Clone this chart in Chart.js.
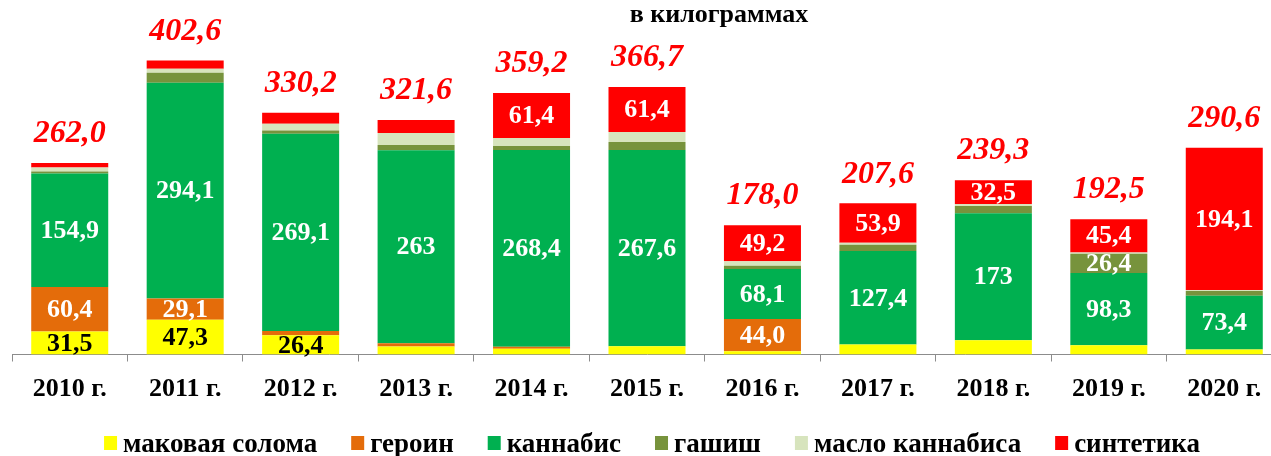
<!DOCTYPE html>
<html>
<head>
<meta charset="utf-8">
<script src="https://cdn.jsdelivr.net/npm/chart.js@4/dist/chart.umd.min.js"></script>
<style>
  html, body { margin: 0; padding: 0; background: #fff; overflow: hidden; }
  #wrap { width: 1271px; height: 456px; overflow: hidden; }
</style>
</head>
<body>
<div id="wrap"><canvas id="chart" width="1282" height="456"></canvas></div>
<script>
// Years on the x axis
const years = ['2010 г.', '2011 г.', '2012 г.', '2013 г.', '2014 г.', '2015 г.',
  '2016 г.', '2017 г.', '2018 г.', '2019 г.', '2020 г.'];

// Seized amounts, kg (small segments)
const poppyStraw = [31.5, 47.3, 26.4, 11.0, 7.7, 11.3, 4.5, 13.6, 19.5, 12.7, 6.8];
const heroin     = [60.4, 29.1, 5.5, 4.5, 2.7, 0, 44.0, 0, 0, 0, 0];
const cannabis   = [154.9, 294.1, 269.1, 263, 268.4, 267.6, 68.1, 127.4, 173, 98.3, 73.4];
const hashish    = [2.7, 13.6, 4.5, 7.3, 5.5, 11.0, 4.5, 8.6, 10.0, 26.4, 6.4];
const cannabisOil = [5.5, 5.5, 9.0, 16.4, 11.0, 13.6, 6.0, 2.7, 2.7, 1.8, 1.4];
const synthetics = [6.3, 11.3, 15.0, 17.7, 61.4, 61.4, 49.2, 53.9, 32.5, 45.4, 194.1];

// Printed labels
const poppyLabels    = ['31,5', '47,3', '26,4', null, null, null, null, null, null, null, null];
const heroinLabels   = ['60,4', '29,1', null, null, null, null, '44,0', null, null, null, null];
const cannabisLabels = ['154,9', '294,1', '269,1', '263', '268,4', '267,6', '68,1', '127,4', '173', '98,3', '73,4'];
const hashishLabels  = [null, null, null, null, null, null, null, null, null, '26,4', null];
const synthLabels    = [null, null, null, null, '61,4', '61,4', '49,2', '53,9', '32,5', '45,4', '194,1'];
const totalLabels    = ['262,0', '402,6', '330,2', '321,6', '359,2', '366,7', '178,0', '207,6', '239,3', '192,5', '290,6'];

const SERIF = 'Liberation Serif';

function series(label, data, color, labels, labelColor) {
  return {
    label, data,
    backgroundColor: color,
    borderWidth: 0,
    barPercentage: 0.667,
    categoryPercentage: 1.0,
    segLabels: labels,
    segLabelColor: labelColor
  };
}

const datasets = [
  series('маковая солома', poppyStraw, '#FFFF00', poppyLabels, '#000000'),
  series('героин', heroin, '#E46C0A', heroinLabels, '#FFFFFF'),
  series('каннабис', cannabis, '#00B050', cannabisLabels, '#FFFFFF'),
  series('гашиш', hashish, '#77933C', hashishLabels, '#FFFFFF'),
  series('масло каннабиса', cannabisOil, '#D7E4BD', null, '#FFFFFF'),
  series('синтетика', synthetics, '#FF0000', synthLabels, '#FFFFFF')
];

const labelPlugin = {
  id: 'labels',
  afterDatasetsDraw(chart) {
    const ctx = chart.ctx;
    ctx.save();
    ctx.textAlign = 'center';
    ctx.textBaseline = 'middle';
    ctx.font = 'bold 26px ' + SERIF;
    chart.data.datasets.forEach((ds, i) => {
      if (!ds.segLabels) return;
      const meta = chart.getDatasetMeta(i);
      ctx.fillStyle = ds.segLabelColor;
      meta.data.forEach((bar, j) => {
        const txt = ds.segLabels[j];
        if (!txt) return;
        ctx.fillText(txt, bar.x, (bar.y + bar.base) / 2 + 1);
      });
    });

    // totals above the stacks
    const top = chart.getDatasetMeta(chart.data.datasets.length - 1);
    ctx.font = 'italic bold 32px ' + SERIF;
    ctx.fillStyle = '#FF0000';
    top.data.forEach((bar, j) => {
      ctx.fillText(totalLabels[j], bar.x, bar.y - 29);
    });
    ctx.restore();
  },
  afterDraw(chart) {
    const ctx = chart.ctx;
    const area = chart.chartArea;
    ctx.save();

    // title
    ctx.font = 'bold 26px ' + SERIF;
    ctx.fillStyle = '#000';
    ctx.textAlign = 'center';
    ctx.textBaseline = 'alphabetic';
    ctx.fillText('в килограммах', 719, 22);

    // legend
    ctx.font = 'bold 27px ' + SERIF;
    ctx.textAlign = 'left';
    const boxW = 13, boxH = 14, gapText = 6, gapItem = 34;
    const items = chart.data.datasets.map(ds => ({
      text: ds.label, color: ds.backgroundColor, w: ctx.measureText(ds.label).width
    }));
    const total = items.reduce((s, it) => s + boxW + gapText + it.w, 0) + gapItem * (items.length - 1);
    let x = (area.left + area.right) / 2 + 5 - total / 2;
    items.forEach(it => {
      ctx.fillStyle = it.color;
      ctx.fillRect(x, 436, boxW, boxH);
      ctx.fillStyle = '#000';
      ctx.fillText(it.text, x + boxW + gapText, 451.5);
      x += boxW + gapText + it.w + gapItem;
    });
    ctx.restore();
  }
};

new Chart(document.getElementById('chart'), {
  type: 'bar',
  data: { labels: years, datasets },
  options: {
    responsive: false,
    animation: false,
    devicePixelRatio: 1,
    layout: { padding: { left: 12, right: 0, top: 24.5, bottom: 39.3 } },
    plugins: {
      legend: { display: false },
      title: { display: false },
      tooltip: { enabled: false }
    },
    scales: {
      x: {
        stacked: true,
        grid: {
          display: true,
          drawOnChartArea: false,
          drawTicks: true,
          tickLength: 7,
          color: '#8C8C8C'
        },
        border: { display: true, color: '#8C8C8C', width: 1 },
        ticks: {
          color: '#000',
          padding: 12,
          font: { family: SERIF, size: 26, weight: 'bold' }
        }
      },
      y: {
        stacked: true,
        display: false,
        min: 0,
        max: 450
      }
    }
  },
  plugins: [labelPlugin]
});
</script>
</body>
</html>
